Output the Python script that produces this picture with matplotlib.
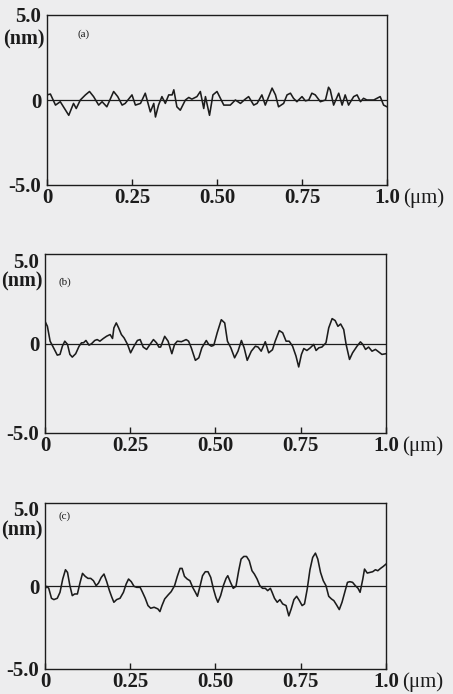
import matplotlib
matplotlib.use("Agg")
import matplotlib.pyplot as plt
import matplotlib.transforms as mtransforms

# ---- data ----
xa = [0.000, 0.010, 0.025, 0.039, 0.064, 0.078, 0.086, 0.098, 0.113, 0.125, 0.137, 0.152, 0.162, 0.176,
      0.196, 0.208, 0.221, 0.230, 0.250, 0.260, 0.275, 0.289, 0.304, 0.314, 0.319, 0.328, 0.338, 0.348,
      0.358, 0.368, 0.373, 0.382, 0.392, 0.407, 0.417, 0.426, 0.441, 0.451, 0.461, 0.466, 0.478, 0.488,
      0.500, 0.510, 0.520, 0.539, 0.554, 0.569, 0.583, 0.593, 0.608, 0.618, 0.632, 0.642, 0.662, 0.672,
      0.681, 0.696, 0.706, 0.716, 0.725, 0.735, 0.750, 0.760, 0.770, 0.779, 0.789, 0.804, 0.819, 0.828,
      0.833, 0.843, 0.858, 0.868, 0.877, 0.887, 0.902, 0.912, 0.922, 0.931, 0.941, 0.961, 0.980, 0.990, 1.000]
ya = [0.3, 0.35, -0.3, -0.1, -0.9, -0.2, -0.5, 0.0, 0.3, 0.5, 0.2, -0.3, -0.1, -0.4,
      0.5, 0.2, -0.3, -0.2, 0.3, -0.3, -0.2, 0.4, -0.7, -0.2, -1.0, -0.3, 0.2, -0.2,
      0.3, 0.3, 0.6, -0.4, -0.6, 0.0, 0.15, 0.05, 0.2, 0.5, -0.5, 0.2, -0.9, 0.3,
      0.5, 0.1, -0.3, -0.3, 0.0, -0.2, 0.05, 0.2, -0.3, -0.2, 0.3, -0.3, 0.7, 0.3,
      -0.4, -0.2, 0.3, 0.4, 0.1, -0.1, 0.2, -0.05, 0.0, 0.4, 0.3, -0.1, 0.0, 0.75,
      0.6, -0.3, 0.4, -0.3, 0.3, -0.3, 0.2, 0.3, -0.1, 0.1, 0.0, 0.0, 0.2, -0.3, -0.4]

xb = [0.000, 0.007, 0.015, 0.024, 0.036, 0.044, 0.051, 0.058, 0.066, 0.073, 0.080, 0.090, 0.100, 0.107,
      0.113, 0.120, 0.129, 0.136, 0.146, 0.153, 0.161, 0.171, 0.181, 0.191, 0.198, 0.202, 0.209, 0.216,
      0.224, 0.232, 0.242, 0.251, 0.261, 0.271, 0.279, 0.288, 0.298, 0.308, 0.318, 0.327, 0.334,
      0.339, 0.351, 0.361, 0.372, 0.380, 0.388, 0.400, 0.414, 0.421, 0.429, 0.441, 0.451, 0.460, 0.473,
      0.480, 0.488, 0.495, 0.505, 0.517, 0.527, 0.535, 0.545, 0.556, 0.566, 0.576, 0.584, 0.593, 0.605,
      0.617, 0.625, 0.634, 0.646, 0.656, 0.667, 0.675, 0.687, 0.697, 0.707, 0.716, 0.726, 0.736, 0.744,
      0.752, 0.759, 0.768, 0.778, 0.788, 0.795, 0.803, 0.812, 0.824, 0.832, 0.842, 0.851, 0.859, 0.867,
      0.876, 0.883, 0.893, 0.902, 0.915, 0.925, 0.932, 0.940, 0.949, 0.959, 0.969, 0.978, 0.988, 1.000]
yb = [1.24, 0.96, 0.13, -0.2, -0.65, -0.61, -0.15, 0.13, -0.05, -0.61, -0.76, -0.57, -0.15, 0.04,
      0.04, 0.17, -0.09, -0.02, 0.17, 0.22, 0.13, 0.28, 0.41, 0.5, 0.28, 0.87, 1.15, 0.87,
      0.5, 0.31, -0.05, -0.52, -0.15, 0.17, 0.22, -0.2, -0.33, -0.05, 0.22, 0.04, -0.2,
      -0.2, 0.4, 0.13, -0.57, -0.05, 0.13, 0.1, 0.22, 0.13, -0.24, -0.94, -0.8, -0.24, 0.17,
      -0.05, -0.15, -0.1, 0.6, 1.33, 1.15, 0.13, -0.24, -0.8, -0.43, 0.17, -0.24, -0.94, -0.43,
      -0.15, -0.2, -0.43, 0.1, -0.52, -0.35, 0.13, 0.72, 0.6, 0.13, 0.13, -0.15, -0.7, -1.31,
      -0.61, -0.28, -0.39, -0.24, -0.05, -0.39, -0.24, -0.2, 0.04, 0.87, 1.39, 1.28, 0.96, 1.09,
      0.78, -0.05, -0.89, -0.52, -0.15, 0.09, -0.05, -0.33, -0.2, -0.43, -0.33, -0.46, -0.61, -0.57]

xc = [0.000, 0.005, 0.011, 0.019, 0.026, 0.036, 0.044, 0.052, 0.060, 0.066, 0.073, 0.080, 0.087, 0.095,
      0.103, 0.110, 0.118, 0.126, 0.134, 0.142, 0.150, 0.157, 0.165, 0.173, 0.181, 0.189, 0.196, 0.202,
      0.210, 0.220, 0.230, 0.238, 0.245, 0.253, 0.261, 0.269, 0.279, 0.286, 0.294, 0.302, 0.310, 0.320,
      0.331, 0.337, 0.343, 0.351, 0.361, 0.370, 0.380, 0.388, 0.396, 0.402, 0.409, 0.417, 0.425, 0.433,
      0.441, 0.447, 0.455, 0.462, 0.470, 0.478, 0.486, 0.494, 0.501, 0.507, 0.515, 0.523, 0.531, 0.536,
      0.544, 0.552, 0.560, 0.568, 0.575, 0.583, 0.591, 0.599, 0.607, 0.614, 0.622, 0.630, 0.638, 0.646,
      0.653, 0.661, 0.666, 0.673, 0.681, 0.689, 0.697, 0.707, 0.715, 0.722, 0.730, 0.738, 0.746, 0.754,
      0.761, 0.769, 0.777, 0.785, 0.793, 0.800, 0.808, 0.816, 0.824, 0.832, 0.840, 0.847, 0.855, 0.863,
      0.871, 0.879, 0.887, 0.894, 0.902, 0.910, 0.918, 0.924, 0.932, 0.937, 0.945, 0.953, 0.961, 0.969,
      0.976, 0.984, 0.992, 1.000]
yc = [-0.18, -0.02, -0.14, -0.74, -0.82, -0.74, -0.38, 0.42, 0.98, 0.82, 0.02, -0.58, -0.48, -0.48,
      0.22, 0.76, 0.58, 0.46, 0.46, 0.32, 0.02, 0.18, 0.52, 0.72, 0.26, -0.28, -0.68, -0.98,
      -0.82, -0.74, -0.38, 0.12, 0.42, 0.26, -0.02, -0.08, -0.08, -0.38, -0.74, -1.18, -1.34, -1.28,
      -1.38, -1.54, -1.18, -0.78, -0.54, -0.34, 0.02, 0.58, 1.06, 1.06, 0.58, 0.42, 0.32, -0.08,
      -0.38, -0.62, 0.02, 0.62, 0.86, 0.86, 0.52, -0.18, -0.68, -0.98, -0.58, 0.02, 0.46, 0.62,
      0.22, -0.14, -0.02, 0.92, 1.62, 1.78, 1.78, 1.52, 0.92, 0.72, 0.42, 0.02, -0.14, -0.14,
      -0.28, -0.14, -0.38, -0.74, -0.98, -0.82, -1.08, -1.18, -1.8, -1.38, -0.82, -0.62, -0.88, -1.18,
      -1.08, -0.18, 0.98, 1.72, 1.98, 1.62, 0.82, 0.32, 0.02, -0.62, -0.78, -0.88, -1.14, -1.42,
      -0.98, -0.38, 0.22, 0.26, 0.22, 0.02, -0.14, -0.38, 0.42, 1.02, 0.78, 0.82, 0.86, 0.98,
      0.92, 1.06, 1.18, 1.32]

panel_labels = ["(a)", "(b)", "(c)"]
xtick_vals = [0, 0.25, 0.50, 0.75, 1.0]
xtick_text = ["0", "0.25", "0.50", "0.75", "1.0"]
ytick_vals = [5.0, 0, -5.0]
ytick_text = ["5.0", "0", "-5.0"]

series = [(xa, ya), (xb, yb), (xc, yc)]

# ---- layout ----
W, H = 453, 694
bg = "#ededee"
ink = "#1c1c1c"
fs = 15
fs_nm = 14.5
fig = plt.figure(figsize=(W / 100, H / 100), dpi=100, facecolor=bg)

boxes = [(47, 15, 387, 185), (45, 254, 386, 433), (45, 503, 386, 669)]
nm_y = [3.55, 3.45, 3.35]
top_shift_px = [0, 6, 6]
lab_x = [0.09, 0.04, 0.04]
lab_y = [3.9, 3.4, 4.2]

serif = ["Liberation Serif", "DejaVu Serif"]
for i, ((x0, y0, x1, y1), (xs, ys)) in enumerate(zip(boxes, series)):
    ax = fig.add_axes([x0 / W, 1 - y1 / H, (x1 - x0) / W, (y1 - y0) / H])
    ax.set_facecolor("none")
    ax.plot(xs, ys, color=ink, lw=1.15)
    ax.axhline(0, color=ink, lw=0.9)
    ax.set_xlim(0, 1.0)
    ax.set_ylim(-5, 5)
    for s in ax.spines.values():
        s.set_color(ink)
        s.set_linewidth(1.0)
    ax.set_xticks(xtick_vals)
    ax.set_xticklabels(xtick_text, fontfamily=serif, fontweight="bold", fontsize=fs, color=ink)
    ax.tick_params(axis="x", direction="in", length=4, width=1, color=ink, pad=2)
    ax.set_yticks(ytick_vals)
    ax.set_yticklabels(ytick_text, fontfamily=serif, fontweight="bold", fontsize=fs, color=ink)
    ax.tick_params(axis="y", length=0, pad=4)
    toplab = ax.get_yticklabels()[0]
    toplab.set_transform(toplab.get_transform() +
                         mtransforms.ScaledTranslation(0, -top_shift_px[i] / 100, fig.dpi_scale_trans))
    ax.annotate("(nm)", xy=(0, nm_y[i]), xycoords=ax.get_yaxis_transform(),
                xytext=(-2, 0), textcoords="offset points", ha="right", va="center",
                fontfamily=serif, fontweight="bold", fontsize=fs_nm, color=ink)
    ax.text(lab_x[i], lab_y[i], panel_labels[i], ha="left", va="center",
            fontfamily=serif, fontsize=8, color=ink)
    ax.annotate("(\u03bcm)", xy=(1.0, 0), xycoords="axes fraction",
                xytext=(11.5, -2), textcoords="offset points", ha="left", va="top",
                fontfamily=serif, fontsize=fs, color=ink)

fig.savefig("out.png", dpi=100, facecolor=bg)
